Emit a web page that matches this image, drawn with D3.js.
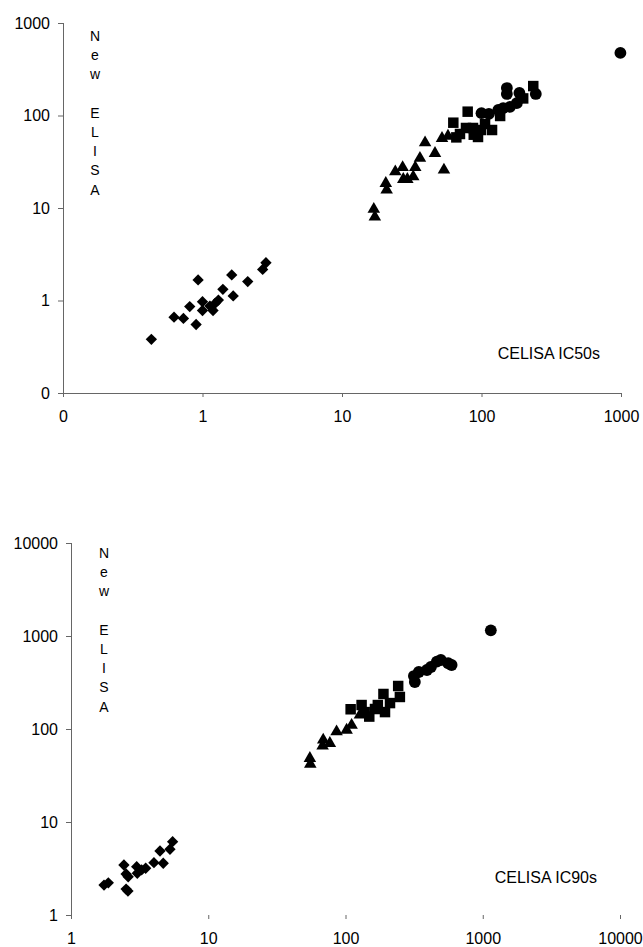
<!DOCTYPE html>
<html>
<head>
<meta charset="utf-8">
<script src="https://cdn.jsdelivr.net/npm/d3@7/dist/d3.min.js"></script>
<style>
  body { margin: 0; background: #fff; }
  svg { display: block; font-family: "Liberation Sans", Arial, sans-serif; }
  .tick text { fill: #000; }
</style>
</head>
<body>
<svg width="643" height="947"></svg>
<script>
// ---- IC50 panel (CELISA vs New ELISA) ----
var ic50Diamonds = [[0.43,0.38],[0.625,0.66],[0.73,0.64],[0.90,0.55],[0.81,0.86],[0.93,1.67],
  [1.0,0.97],[1.0,0.78],[1.19,0.78],[1.23,0.93],[1.30,1.01],[1.13,0.87],[1.40,1.32],
  [1.62,1.89],[1.66,1.12],[2.11,1.60],[2.70,2.17],[2.85,2.56]];
var ic50Triangles = [[16.9,9.7],[17.2,8.0],[20.6,18.5],[20.9,15.7],[24.1,24.7],[27.2,27.5],
  [27.5,20.4],[29.4,20.4],[32.4,21.8],[33.5,27.5],[36.2,34.5],[39.4,50.8],[46.4,39.0],
  [53.8,25.8],[52.1,56.7],[57.5,60.0]];
var ic50Squares = [[62.8,83.6],[79.6,110],[70.1,63.1],[86.9,73.3],[94.4,58.6],[106,80.9],
  [119,69.7],[136,98.8],[199,153],[235,208],[77.4,73.3],[99.1,69.7],[66,58],[88,62]];
var ic50Circles = [[152,198],[152,171],[187,175],[245,171],[100,106],[132,115],[143,120],
  [160,124],[179,136],[113,104],[990,475]];

// ---- IC90 panel ----
var ic90Diamonds = [[1.74,2.10],[1.87,2.22],[2.43,3.45],[2.52,2.76],[2.61,2.58],[2.52,1.90],
  [2.60,1.81],[3.01,3.31],[3.04,2.81],[3.27,3.05],[3.50,3.18],[4.02,3.65],[4.70,3.60],
  [4.45,4.88],[5.26,5.09],[5.50,6.14]];
var ic90Triangles = [[55.0,48.4],[55.4,42.0],[68.8,76.2],[68.1,65.7],[76.9,70.2],[86.1,93.5],
  [101.9,97.5],[110.8,110],[127.3,141.5],[136,152]];
var ic90Squares = [[109,163],[131,181],[149,136],[164,164],[194,152],[189,238],[242,290],
  [249,221],[211,190],[138,152],[172,181]];
var ic90Circles = [[320,320],[315,371],[342,410],[392,431],[419,464],[463,530],[495,552],
  [560,509],[593,488],[1145,1150]];

var ic50Ticks = [0.1, 1, 10, 100, 1000];
var ic50TickLabels = ["0", "1", "10", "100", "1000"];
var ic90Ticks = [1, 10, 100, 1000, 10000];
var ic90TickLabels = ["1", "10", "100", "1000", "10000"];
var yTitle = ["N", "e", "w", "", "E", "L", "I", "S", "A"];

var svg = d3.select("svg");
var axisColor = "#666";

function drawPanel(opt) {
  var x = d3.scaleLog().domain(opt.domain).range(opt.xRange);
  var y = d3.scaleLog().domain(opt.domain).range(opt.yRange);
  var g = svg.append("g");

  // y axis
  var yAxis = d3.axisLeft(y).tickValues(opt.ticks).tickSize(5).tickPadding(8)
    .tickFormat(function(d, i) { return opt.labels[i]; });
  var ya = g.append("g").attr("transform", "translate(" + opt.xRange[0] + ",0)").call(yAxis);
  ya.select(".domain").attr("stroke", axisColor).attr("d",
    "M0.5," + opt.yRange[0] + "V" + opt.yRange[1]);
  ya.selectAll(".tick line").attr("stroke", axisColor);
  ya.selectAll(".tick text").attr("font-size", 16);

  // x axis
  var xAxis = d3.axisBottom(x).tickValues(opt.ticks).tickSize(4).tickPadding(opt.xPad)
    .tickFormat(function(d, i) { return opt.labels[i]; });
  var xa = g.append("g").attr("transform", "translate(0," + opt.yRange[0] + ")").call(xAxis);
  if (opt.xLine) {
    xa.select(".domain").attr("stroke", axisColor).attr("d",
      "M" + opt.xRange[0] + ",0.5H" + opt.xRange[1]);
  } else {
    xa.select(".domain").remove();
  }
  xa.selectAll(".tick line").attr("stroke", axisColor);
  xa.selectAll(".tick text").attr("font-size", 16);

  // vertical title
  g.selectAll(".ytitle").data(yTitle).enter().append("text")
    .attr("x", opt.titleX)
    .attr("y", function(d, i) { return opt.titleY + i * 19.2; })
    .attr("text-anchor", "middle")
    .attr("font-size", 14)
    .text(function(d) { return d; });

  g.append("text")
    .attr("x", opt.labelX).attr("y", opt.labelY)
    .attr("text-anchor", "end").attr("font-size", 16)
    .text(opt.label);

  function plot(data, type, size, rot) {
    g.selectAll(null).data(data).enter().append("path")
      .attr("d", d3.symbol().type(type).size(size))
      .attr("transform", function(d) {
        return "translate(" + x(d[0]) + "," + y(d[1]) + ")" + (rot ? " rotate(45)" : "");
      })
      .attr("fill", "#000");
  }
  plot(opt.diamonds, d3.symbolSquare, 64, true);
  plot(opt.triangles, d3.symbolTriangle, 68, false);
  plot(opt.squares, d3.symbolSquare, 110, false);
  plot(opt.circles, d3.symbolCircle, 110, false);
}

drawPanel({
  domain: [0.1, 1000], xRange: [63, 621], yRange: [393, 23],
  ticks: ic50Ticks, labels: ic50TickLabels, xLine: true, xPad: 14,
  titleX: 95, titleY: 41, label: "CELISA IC50s", labelX: 600, labelY: 359,
  diamonds: ic50Diamonds, triangles: ic50Triangles, squares: ic50Squares, circles: ic50Circles
});

drawPanel({
  domain: [1, 10000], xRange: [71, 620], yRange: [915, 543],
  ticks: ic90Ticks, labels: ic90TickLabels, xLine: false, xPad: 14,
  titleX: 104, titleY: 558, label: "CELISA IC90s", labelX: 597, labelY: 883,
  diamonds: ic90Diamonds, triangles: ic90Triangles, squares: ic90Squares, circles: ic90Circles
});
</script>
</body>
</html>
